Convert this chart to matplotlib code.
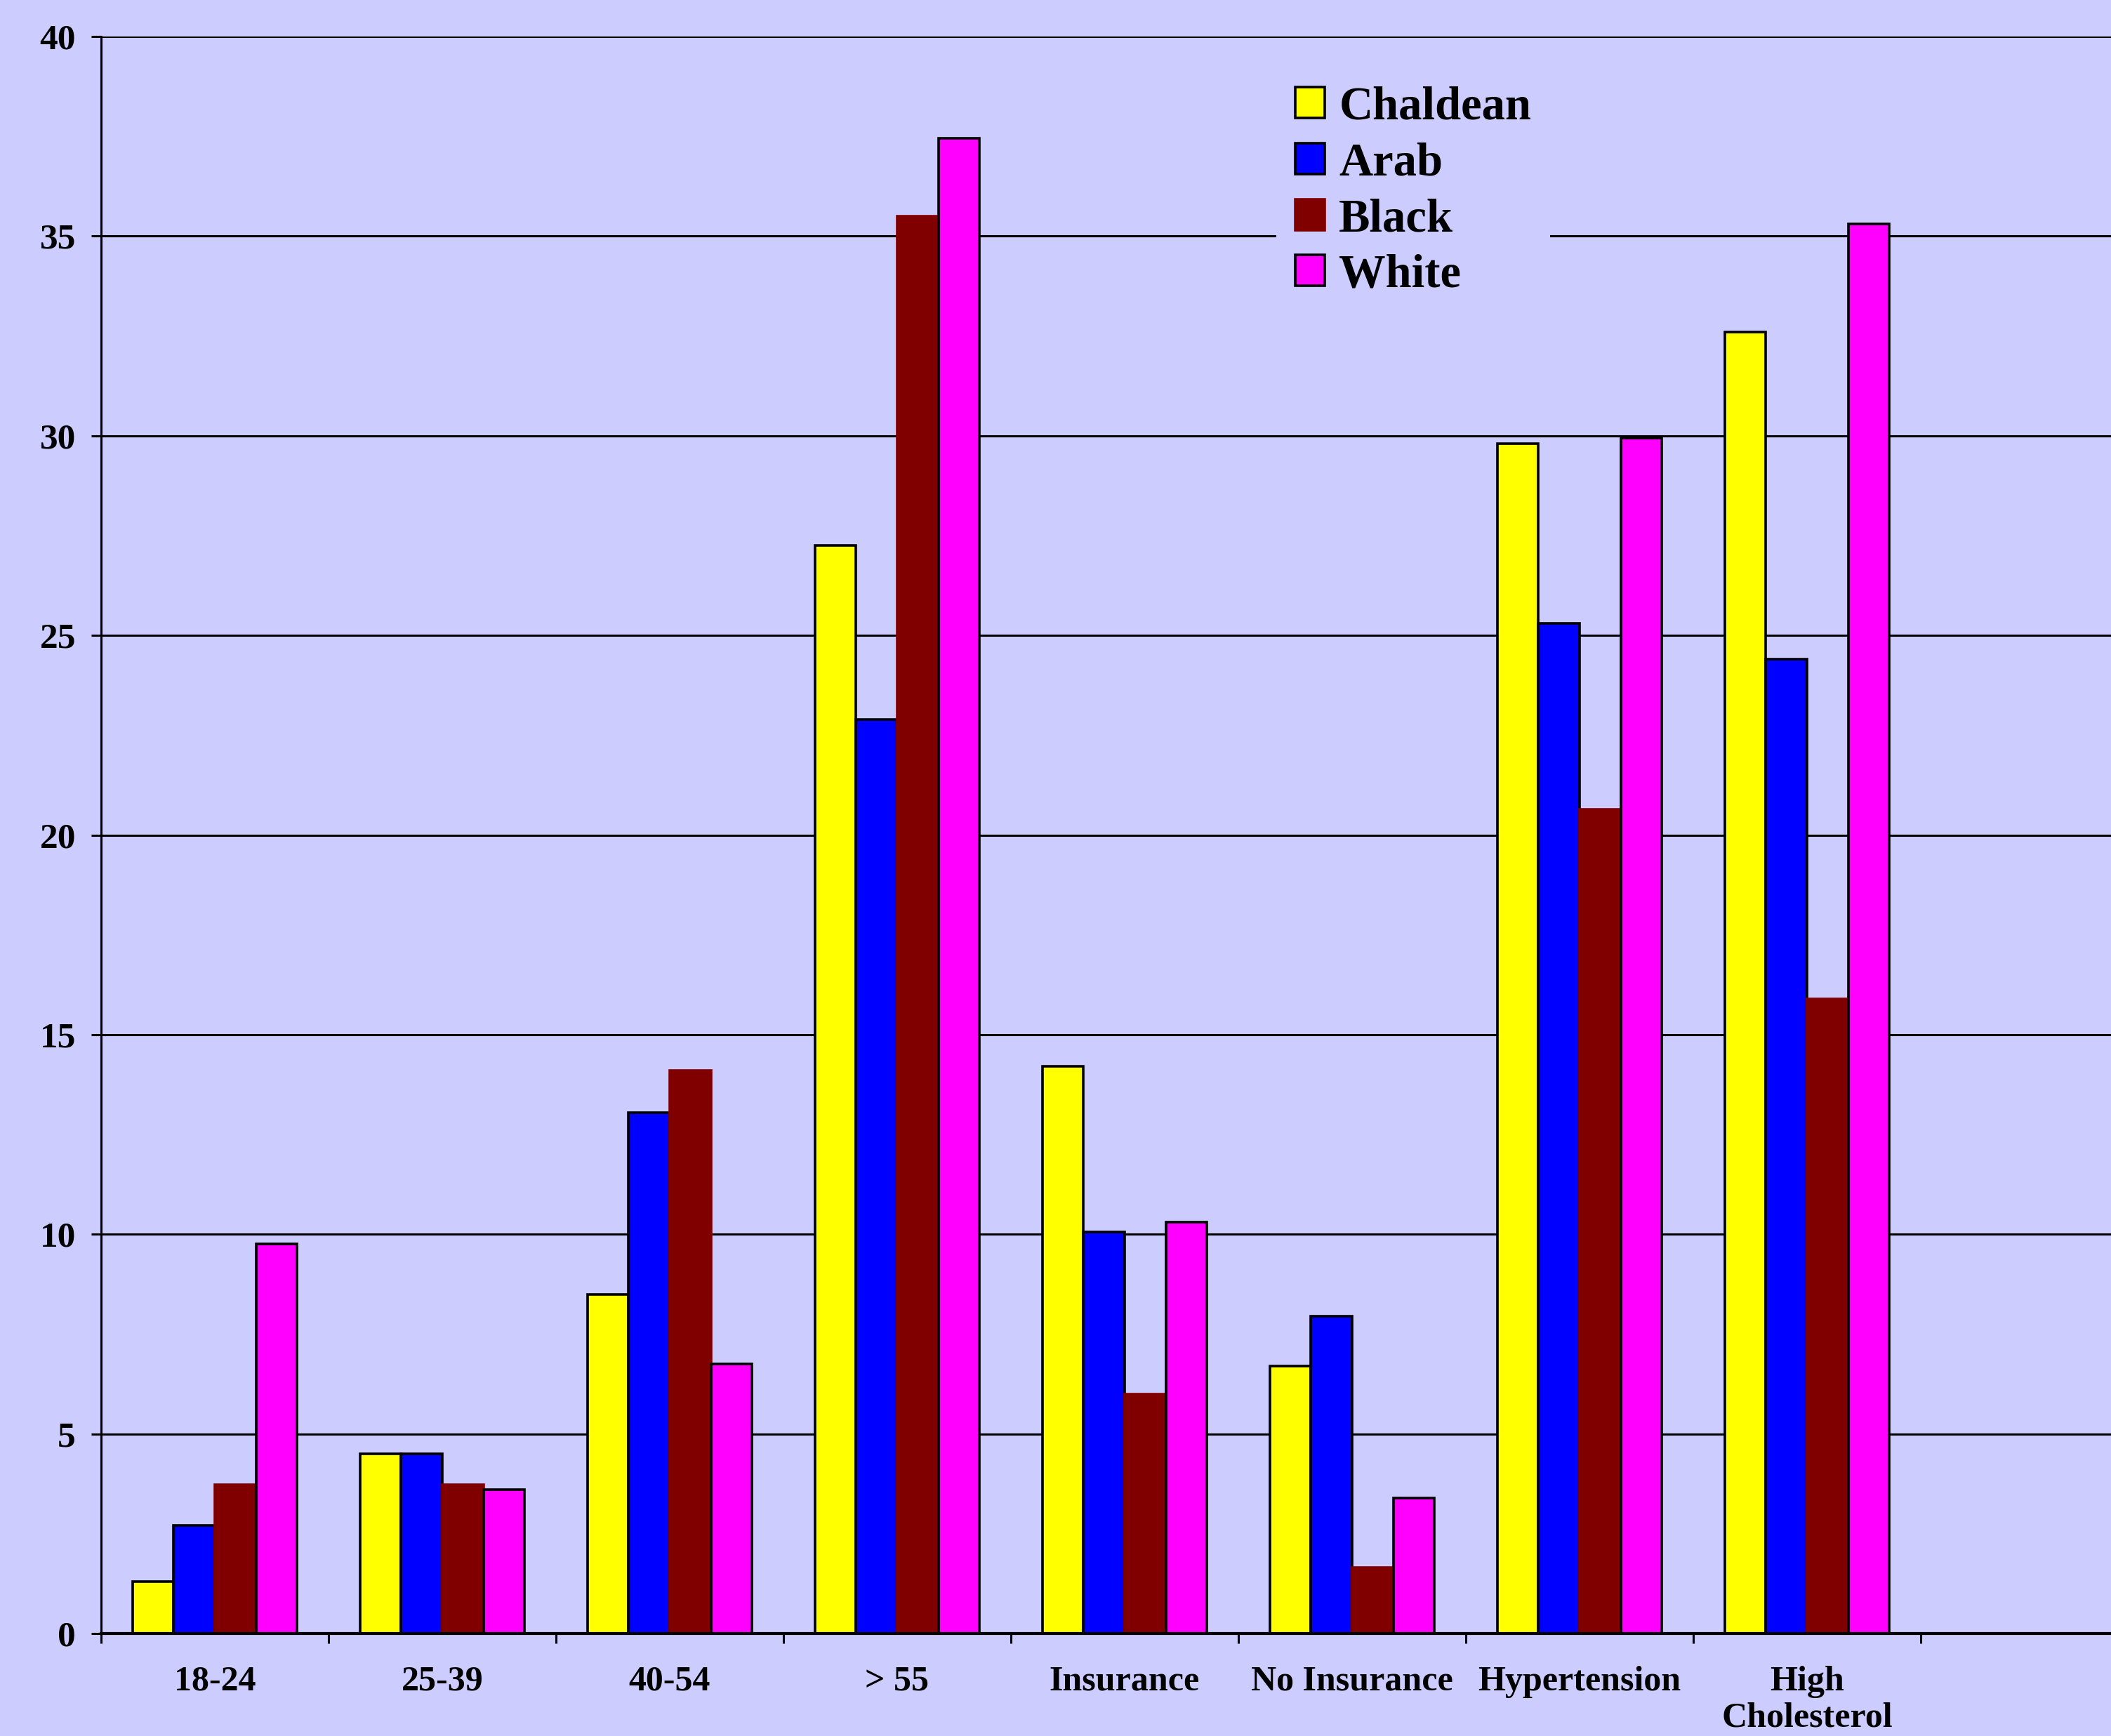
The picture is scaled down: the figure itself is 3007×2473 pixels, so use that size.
import numpy as np
import matplotlib
matplotlib.use('Agg')
import matplotlib.pyplot as plt

categories = ['18-24', '25-39', '40-54', '> 55', 'Insurance', 'No Insurance',
              'Hypertension', 'High\nCholesterol']
chaldean = [1.3, 4.5, 8.5, 27.25, 14.2, 6.7, 29.8, 32.6]
arab = [2.7, 4.5, 13.05, 22.9, 10.05, 7.95, 25.3, 24.4]
black = [3.72, 3.72, 14.1, 35.5, 6.0, 1.65, 20.65, 15.9]
white = [9.75, 3.6, 6.75, 37.45, 10.3, 3.4, 29.95, 35.3]

series = [('Chaldean', chaldean, '#FFFF00', 'black'),
          ('Arab', arab, '#0000FF', 'black'),
          ('Black', black, '#800000', '#800000'),
          ('White', white, '#FF00FF', 'black')]

bg = '#CCCCFF'
plt.rcParams['font.family'] = ['Liberation Serif', 'DejaVu Serif']
plt.rcParams['font.weight'] = 'bold'

fig = plt.figure(figsize=(30.07, 24.73), dpi=100, facecolor=bg)
ax = fig.add_axes([144 / 3007, 1 - 2327 / 2473, 1 - 144 / 3007, (2327 - 52) / 2473])
ax.set_facecolor(bg)

x = np.arange(len(categories))
w = 0.181
for i, (name, vals, col, ec) in enumerate(series):
    ax.bar(x + (i - 1.5) * w, vals, w, color=col, edgecolor=ec, linewidth=2.6,
           label=name, zorder=3)

# 2863 px of axes / 324 px per slot
ax.set_xlim(-0.5, -0.5 + 2863 / 324)
ax.set_ylim(0, 40)
ax.set_yticks(np.arange(0, 41, 5))
ax.set_yticklabels([str(v) for v in range(0, 41, 5)], fontsize=37, fontweight='bold')
ax.yaxis.grid(True, color='black', linewidth=2.2, zorder=0)
ax.set_axisbelow(True)

ax.set_xticks(np.arange(-0.5, 8.0, 1.0))
ax.set_xticklabels([])
ax.set_xticks(x, minor=True)
ax.set_xticklabels(categories, minor=True, fontsize=36, fontweight='bold',
                   linespacing=1.15, va='top')
ax.tick_params(axis='x', which='minor', length=0, pad=33)
ax.tick_params(axis='x', which='major', length=10, width=2.2, direction='out')
ax.tick_params(axis='y', length=10, width=2.2, direction='out', pad=16)

for s in ['top', 'right']:
    ax.spines[s].set_visible(False)
ax.spines['left'].set_linewidth(2.2)
ax.spines['bottom'].set_linewidth(3)
ax.spines['bottom'].set_zorder(4)

leg = ax.legend(loc='upper left', bbox_to_anchor=(1818 / 3007, 1 - 96 / 2473),
                bbox_transform=fig.transFigure, frameon=True, fancybox=False,
                facecolor=bg, edgecolor='none', framealpha=1,
                prop={'family': 'Liberation Serif', 'weight': 'bold', 'size': 48},
                handlelength=0.64, handleheight=0.64, handletextpad=0.3,
                labelspacing=0.28, borderpad=0.4, borderaxespad=0)
leg.set_zorder(5)

fig.savefig('out.png', dpi=100, facecolor=bg)
